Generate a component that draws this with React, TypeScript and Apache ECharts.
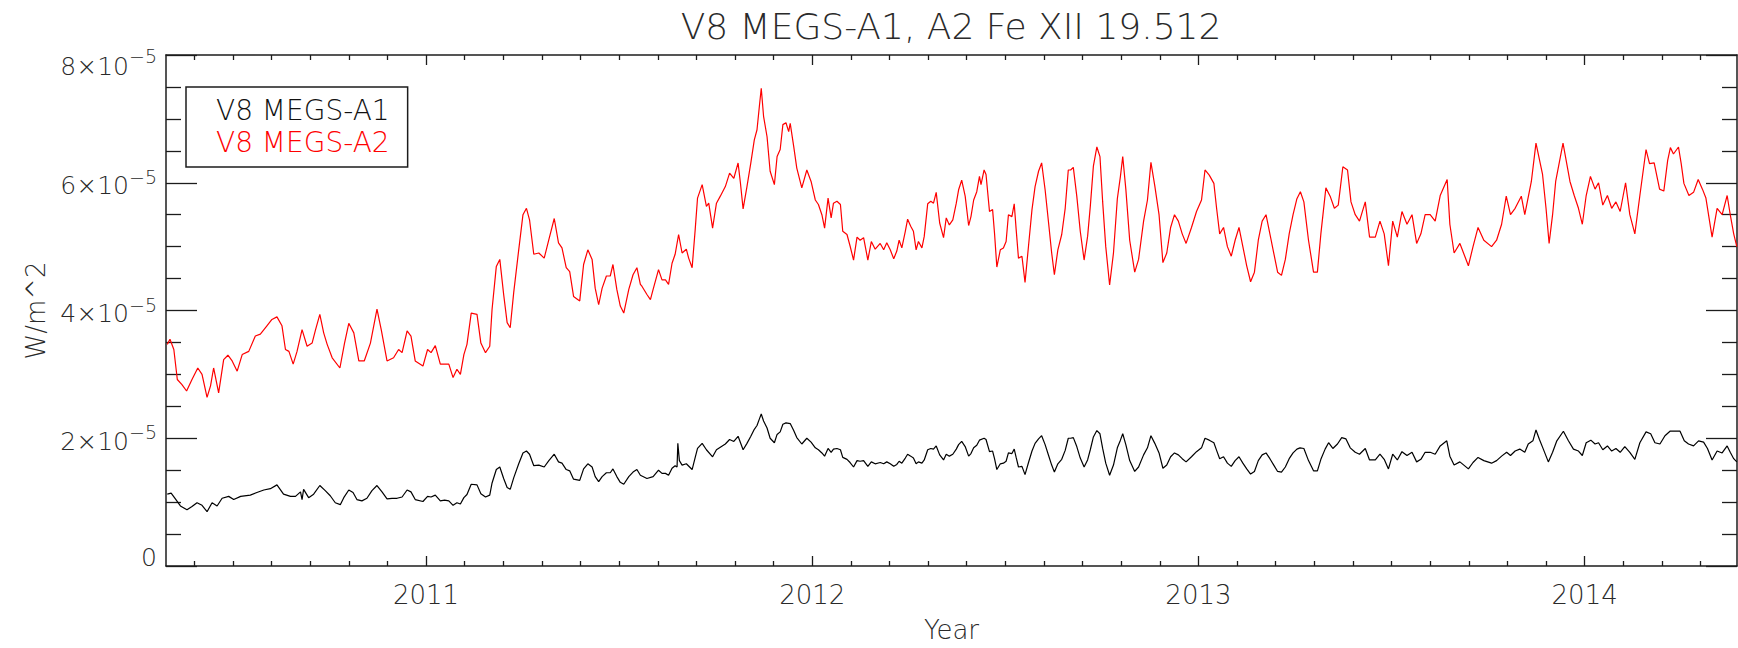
import React, { useEffect, useRef } from "react";
import * as echarts from "echarts";

// Values in units of 1e-5 W/m^2, x in decimal years
const A2_2010: number[][] = [
  [2010.330,3.47],[2010.337,3.55],[2010.347,3.39],[2010.356,2.92],[2010.368,2.84],[2010.380,2.74],[2010.394,2.92],[2010.409,3.10],[2010.420,3.00],[2010.433,2.64],[2010.442,2.82],[2010.450,3.10],[2010.463,2.71],[2010.476,3.23],[2010.487,3.30],[2010.498,3.21],[2010.511,3.05],[2010.524,3.31],[2010.541,3.36],[2010.558,3.60],[2010.571,3.63],[2010.588,3.76],[2010.601,3.86],[2010.614,3.90],[2010.627,3.76],[2010.636,3.39],[2010.645,3.36],[2010.656,3.16],[2010.666,3.36],[2010.679,3.70],[2010.692,3.44],[2010.705,3.49],[2010.714,3.70],[2010.725,3.94],[2010.735,3.65],[2010.744,3.47],[2010.757,3.26],[2010.777,3.10],[2010.789,3.49],[2010.800,3.80],[2010.813,3.65],[2010.826,3.21],[2010.840,3.21],[2010.856,3.49],[2010.873,4.02],[2010.884,3.70],[2010.899,3.21],[2010.916,3.26],[2010.929,3.39],[2010.938,3.34],[2010.951,3.68],[2010.961,3.60],[2010.972,3.21],[2010.992,3.13]
];
const A2_2011: number[][] = [
  [2011.004,3.39],[2011.013,3.34],[2011.024,3.45],[2011.037,3.16],[2011.059,3.16],[2011.070,2.95],[2011.080,3.08],[2011.089,3.00],[2011.098,3.31],[2011.106,3.47],[2011.117,3.96],[2011.132,3.94],[2011.142,3.49],[2011.154,3.34],[2011.165,3.44],[2011.171,4.02],[2011.182,4.69],[2011.191,4.80],[2011.201,4.25],[2011.210,3.81],[2011.218,3.73],[2011.227,4.28],[2011.240,4.95],[2011.251,5.50],[2011.260,5.60],[2011.268,5.42],[2011.279,4.88],[2011.292,4.90],[2011.306,4.82],[2011.318,5.11],[2011.332,5.44],[2011.343,5.06],[2011.352,4.98],[2011.363,4.67],[2011.372,4.61],[2011.382,4.22],[2011.398,4.15],[2011.408,4.72],[2011.419,4.95],[2011.430,4.80],[2011.438,4.35],[2011.447,4.09],[2011.456,4.35],[2011.467,4.54],[2011.477,4.54],[2011.484,4.72],[2011.494,4.33],[2011.503,4.07],[2011.512,3.96],[2011.525,4.33],[2011.536,4.56],[2011.546,4.67],[2011.555,4.41],
  [2011.559,4.38],[2011.572,4.25],[2011.581,4.17],[2011.588,4.33],[2011.602,4.64],[2011.611,4.48],[2011.620,4.48],[2011.628,4.41],[2011.637,4.74],[2011.645,4.88],[2011.654,5.19],[2011.663,4.90],[2011.674,4.96],[2011.680,4.82],[2011.689,4.67],[2011.697,5.27],[2011.703,5.76],[2011.715,5.97],[2011.726,5.63],[2011.732,5.68],[2011.742,5.29],[2011.752,5.68],[2011.762,5.79],[2011.775,5.94],[2011.786,6.15],[2011.797,6.07],[2011.808,6.31],[2011.814,6.00],[2011.821,5.59],[2011.831,5.94],[2011.841,6.31],[2011.850,6.67],[2011.857,6.83],[2011.863,7.19],[2011.868,7.48],[2011.874,7.04],[2011.883,6.72],[2011.891,6.18],[2011.902,5.97],[2011.909,6.41],[2011.917,6.52],[2011.924,6.91],[2011.932,6.94],[2011.939,6.80],[2011.943,6.93],[2011.952,6.57],[2011.960,6.23],[2011.973,5.92],[2011.986,6.20],[2011.997,6.02]
];
const A2_2012: number[][] = [
  [2012.008,5.73],[2012.016,5.66],[2012.025,5.50],[2012.032,5.29],[2012.041,5.76],[2012.049,5.45],[2012.055,5.68],[2012.064,5.71],[2012.073,5.66],[2012.079,5.24],[2012.090,5.19],[2012.098,5.01],[2012.107,4.79],[2012.116,5.15],[2012.124,5.10],[2012.133,5.14],[2012.144,4.79],[2012.153,5.08],[2012.163,4.96],[2012.176,5.05],[2012.185,4.95],[2012.193,5.06],[2012.202,4.95],[2012.211,4.81],[2012.219,4.93],[2012.225,5.10],[2012.232,4.98],[2012.241,5.24],[2012.247,5.43],[2012.255,5.32],[2012.262,5.24],[2012.269,4.95],[2012.275,5.08],[2012.284,4.98],[2012.290,5.16],[2012.299,5.67],[2012.307,5.71],[2012.314,5.68],[2012.321,5.85],[2012.330,5.37],[2012.340,5.14],[2012.347,5.45],[2012.355,5.34],[2012.364,5.42],[2012.373,5.68],[2012.379,5.89],[2012.387,6.04],[2012.396,5.79],[2012.405,5.33],[2012.411,5.47],[2012.418,5.73],[2012.426,5.86],[2012.433,6.10],[2012.437,5.97],[2012.445,6.20],[2012.450,6.13],[2012.459,5.55],[2012.467,5.58],[2012.472,5.21],[2012.478,4.68],[2012.487,4.95],[2012.495,4.98],[2012.502,5.08],[2012.508,5.50],[2012.517,5.47],[2012.523,5.67],[2012.528,5.27],[2012.534,4.82],[2012.543,4.85],[2012.551,4.44],[2012.560,5.01],[2012.569,5.58],[2012.577,5.94],[2012.586,6.18],[2012.594,6.31],[2012.603,5.89],[2012.612,5.37],[2012.620,4.90],[2012.627,4.56],[2012.636,4.95],[2012.646,5.19],[2012.655,5.60],[2012.663,6.20],[2012.669,6.20],[2012.676,6.24],[2012.685,5.79],[2012.694,5.24],[2012.704,4.79],[2012.713,5.16],[2012.720,5.63],[2012.728,6.26],[2012.737,6.56],[2012.745,6.41],
  [2012.752,5.70],[2012.760,5.00],[2012.770,4.40],[2012.780,4.90],[2012.790,5.75],[2012.798,6.10],[2012.804,6.41],[2012.812,5.90],[2012.822,5.10],[2012.835,4.60],[2012.845,4.80],[2012.858,5.40],[2012.868,5.73],[2012.877,6.32],[2012.887,5.95],[2012.898,5.50],[2012.908,4.75],[2012.918,4.90],[2012.928,5.30],[2012.938,5.50],[2012.948,5.40],[2012.958,5.20],[2012.968,5.05],[2012.982,5.30],[2012.995,5.55]
];
const A2_2013: number[][] = [
  [2013.008,5.73],[2013.017,6.20],[2013.028,6.12],[2013.040,5.99],[2013.047,5.60],[2013.055,5.20],[2013.065,5.30],[2013.075,5.00],[2013.085,4.85],[2013.095,5.10],[2013.105,5.30],[2013.115,5.00],[2013.125,4.70],[2013.135,4.45],[2013.145,4.60],[2013.155,5.10],[2013.165,5.40],[2013.175,5.50],[2013.185,5.20],[2013.195,4.90],[2013.205,4.60],[2013.215,4.55],[2013.225,4.80],[2013.235,5.20],[2013.245,5.50],[2013.255,5.75],[2013.264,5.86],
  [2013.273,5.70],[2013.285,5.10],[2013.298,4.60],[2013.308,4.60],[2013.317,5.20],[2013.330,5.92],[2013.341,5.79],[2013.352,5.60],[2013.362,5.65],[2013.374,6.25],[2013.386,6.20],[2013.395,5.70],[2013.406,5.50],[2013.417,5.40],[2013.432,5.70],[2013.443,5.15],[2013.458,5.15],[2013.470,5.40],[2013.481,5.20],[2013.492,4.70],[2013.503,5.40],[2013.515,5.15],[2013.527,5.55],[2013.540,5.35],[2013.553,5.50],[2013.565,5.05],[2013.576,5.20],[2013.587,5.50],[2013.600,5.50],[2013.613,5.40],[2013.626,5.80],[2013.644,6.05],[2013.651,5.35],[2013.662,4.90],[2013.677,5.05],[2013.699,4.70],[2013.711,5.00],[2013.724,5.30],[2013.739,5.10],[2013.759,5.00],[2013.772,5.10],[2013.785,5.35],[2013.797,5.79],[2013.808,5.50],[2013.820,5.60],[2013.836,5.79],[2013.845,5.50],[2013.862,6.02],[2013.874,6.62],[2013.891,6.13],[2013.900,5.60],[2013.908,5.05],[2013.917,5.50],[2013.925,6.02],[2013.944,6.62],[2013.962,6.02],[2013.973,5.80],[2013.984,5.60],[2013.994,5.35]
];
const A2_2014: number[][] = [
  [2014.004,5.80],[2014.015,6.10],[2014.027,5.90],[2014.036,6.00],[2014.047,5.65],[2014.059,5.80],[2014.070,5.60],[2014.081,5.70],[2014.092,5.55],[2014.106,6.00],[2014.117,5.50],[2014.130,5.20],[2014.143,5.80],[2014.159,6.52],[2014.168,6.30],[2014.180,6.31],[2014.194,5.90],[2014.205,5.87],[2014.215,6.35],[2014.222,6.55],[2014.230,6.45],[2014.243,6.56],[2014.250,6.30],[2014.257,5.99],[2014.270,5.80],[2014.282,5.85],[2014.294,6.05],[2014.305,5.90],[2014.314,5.76],[2014.330,5.15],[2014.343,5.60],[2014.356,5.50],[2014.369,5.80],[2014.377,5.50],[2014.386,5.20],[2014.394,5.00]
];

const A1_2010: number[][] = [
  [2010.330,1.125],[2010.340,1.14],[2010.351,1.05],[2010.364,0.94],[2010.381,0.88],[2010.394,0.93],[2010.407,0.99],[2010.420,0.95],[2010.433,0.85],[2010.446,0.99],[2010.459,0.94],[2010.472,1.06],[2010.489,1.09],[2010.502,1.04],[2010.520,1.09],[2010.545,1.11],[2010.562,1.15],[2010.580,1.19],[2010.597,1.21],[2010.614,1.27],[2010.631,1.125],[2010.649,1.09],[2010.662,1.09],[2010.675,1.16],[2010.679,1.04],[2010.683,1.20],[2010.696,1.07],[2010.709,1.125],[2010.725,1.26],[2010.739,1.18],[2010.752,1.10],[2010.765,0.99],[2010.778,0.96],[2010.787,1.07],[2010.800,1.19],[2010.811,1.15],[2010.821,1.04],[2010.834,1.02],[2010.847,1.06],[2010.860,1.18],[2010.873,1.26],[2010.886,1.16],[2010.899,1.05],[2010.912,1.06],[2010.925,1.06],[2010.938,1.08],[2010.951,1.19],[2010.961,1.16],[2010.972,1.04],[2010.992,1.01]
];
const A1_2011: number[][] = [
  [2011.004,1.09],[2011.013,1.08],[2011.024,1.11],[2011.037,1.02],[2011.048,1.03],[2011.059,1.02],[2011.070,0.95],[2011.080,0.99],[2011.089,0.97],[2011.098,1.07],[2011.106,1.12],[2011.117,1.28],[2011.132,1.27],[2011.142,1.13],[2011.154,1.08],[2011.165,1.11],[2011.171,1.30],[2011.182,1.51],[2011.191,1.55],[2011.201,1.37],[2011.210,1.23],[2011.218,1.20],[2011.227,1.38],[2011.240,1.60],[2011.251,1.77],[2011.260,1.80],[2011.268,1.75],[2011.279,1.57],[2011.292,1.58],[2011.306,1.55],[2011.318,1.65],[2011.332,1.75],[2011.343,1.63],[2011.352,1.61],[2011.363,1.51],[2011.372,1.49],[2011.382,1.36],[2011.398,1.34],[2011.408,1.52],[2011.419,1.60],[2011.430,1.55],[2011.438,1.40],[2011.447,1.32],[2011.456,1.40],[2011.467,1.46],[2011.477,1.46],[2011.484,1.52],[2011.494,1.40],[2011.503,1.31],[2011.512,1.28],[2011.525,1.40],[2011.536,1.47],[2011.546,1.51],[2011.555,1.42],
  [2011.572,1.37],[2011.588,1.40],[2011.602,1.50],[2011.611,1.45],[2011.620,1.45],[2011.628,1.42],[2011.637,1.53],[2011.645,1.57],[2011.650,1.55],[2011.652,1.92],[2011.656,1.65],[2011.663,1.58],[2011.674,1.60],[2011.689,1.51],[2011.697,1.70],[2011.703,1.84],[2011.715,1.92],[2011.726,1.82],[2011.742,1.71],[2011.752,1.82],[2011.762,1.86],[2011.775,1.91],[2011.786,1.98],[2011.797,1.95],[2011.808,2.03],[2011.821,1.82],[2011.831,1.92],[2011.841,2.03],[2011.850,2.14],[2011.857,2.20],[2011.863,2.30],[2011.868,2.38],[2011.874,2.27],[2011.883,2.16],[2011.891,2.00],[2011.902,1.93],[2011.909,2.06],[2011.917,2.10],[2011.924,2.22],[2011.932,2.24],[2011.943,2.23],[2011.952,2.12],[2011.960,2.01],[2011.973,1.91],[2011.986,2.00],[2011.997,1.94]
];
const A1_2012: number[][] = [
  [2012.008,1.85],[2012.016,1.82],[2012.025,1.77],[2012.032,1.72],[2012.041,1.84],[2012.049,1.78],[2012.055,1.83],[2012.064,1.84],[2012.073,1.82],[2012.079,1.70],[2012.090,1.67],[2012.098,1.62],[2012.107,1.55],[2012.116,1.65],[2012.124,1.64],[2012.133,1.65],[2012.144,1.56],[2012.153,1.63],[2012.163,1.60],[2012.176,1.62],[2012.185,1.60],[2012.193,1.63],[2012.202,1.60],[2012.211,1.56],[2012.219,1.59],[2012.225,1.64],[2012.232,1.61],[2012.241,1.69],[2012.247,1.75],[2012.255,1.72],[2012.262,1.69],[2012.269,1.60],[2012.275,1.63],[2012.284,1.61],[2012.290,1.66],[2012.299,1.82],[2012.307,1.84],[2012.314,1.83],[2012.321,1.88],[2012.330,1.74],[2012.340,1.66],[2012.347,1.75],[2012.355,1.72],[2012.364,1.75],[2012.373,1.83],[2012.379,1.90],[2012.387,1.95],[2012.396,1.87],[2012.405,1.72],[2012.411,1.76],[2012.418,1.85],[2012.426,1.89],[2012.433,1.97],[2012.445,2.00],[2012.450,1.98],[2012.459,1.79],[2012.467,1.80],[2012.472,1.68],[2012.478,1.51],[2012.487,1.60],[2012.495,1.61],[2012.502,1.64],[2012.508,1.77],[2012.517,1.76],[2012.523,1.83],[2012.528,1.70],[2012.534,1.55],[2012.543,1.56],[2012.551,1.43],[2012.560,1.62],[2012.569,1.80],[2012.577,1.92],[2012.586,1.99],[2012.594,2.04],[2012.603,1.90],[2012.612,1.73],[2012.620,1.58],[2012.627,1.47],[2012.636,1.60],[2012.646,1.67],[2012.655,1.81],[2012.663,2.00],[2012.669,2.00],[2012.676,2.01],[2012.685,1.87],[2012.694,1.69],[2012.704,1.55],[2012.713,1.66],[2012.720,1.82],[2012.728,2.02],[2012.737,2.12],[2012.745,2.07],
  [2012.752,1.84],[2012.760,1.61],[2012.770,1.42],[2012.780,1.58],[2012.790,1.85],[2012.798,1.97],[2012.804,2.07],[2012.812,1.90],[2012.822,1.65],[2012.835,1.48],[2012.845,1.55],[2012.858,1.74],[2012.868,1.85],[2012.877,2.04],[2012.887,1.92],[2012.898,1.77],[2012.908,1.53],[2012.918,1.58],[2012.928,1.71],[2012.938,1.77],[2012.948,1.74],[2012.958,1.68],[2012.968,1.63],[2012.982,1.71],[2012.995,1.79]
];
const A1_2013: number[][] = [
  [2013.008,1.85],[2013.017,2.00],[2013.028,1.97],[2013.040,1.93],[2013.047,1.81],[2013.055,1.68],[2013.065,1.71],[2013.075,1.61],[2013.085,1.56],[2013.095,1.65],[2013.105,1.71],[2013.115,1.61],[2013.125,1.52],[2013.135,1.44],[2013.145,1.48],[2013.155,1.65],[2013.165,1.74],[2013.175,1.77],[2013.185,1.68],[2013.195,1.58],[2013.205,1.48],[2013.215,1.47],[2013.225,1.55],[2013.235,1.68],[2013.245,1.77],[2013.255,1.83],
  [2013.263,1.85],[2013.273,1.84],[2013.285,1.65],[2013.298,1.49],[2013.308,1.49],[2013.317,1.67],[2013.328,1.83],[2013.337,1.93],[2013.348,1.84],[2013.360,1.91],[2013.371,2.01],[2013.382,1.99],[2013.393,1.85],[2013.406,1.78],[2013.417,1.75],[2013.432,1.84],[2013.443,1.66],[2013.458,1.66],[2013.470,1.75],[2013.481,1.67],[2013.492,1.52],[2013.503,1.75],[2013.515,1.66],[2013.527,1.79],[2013.540,1.73],[2013.553,1.78],[2013.565,1.63],[2013.576,1.67],[2013.587,1.78],[2013.600,1.78],[2013.613,1.75],[2013.626,1.88],[2013.643,1.96],[2013.651,1.72],[2013.662,1.58],[2013.677,1.63],[2013.699,1.52],[2013.711,1.62],[2013.724,1.70],[2013.739,1.65],[2013.759,1.61],[2013.772,1.65],[2013.785,1.72],[2013.798,1.78],[2013.808,1.73],[2013.820,1.80],[2013.832,1.83],[2013.845,1.78],[2013.854,1.91],[2013.866,1.96],[2013.874,2.13],[2013.883,1.98],[2013.893,1.83],[2013.906,1.63],[2013.917,1.78],[2013.928,1.96],[2013.945,2.11],[2013.958,1.96],[2013.971,1.83],[2013.984,1.80],[2013.994,1.73]
];
const A1_2014: number[][] = [
  [2014.004,1.93],[2014.016,1.97],[2014.027,1.91],[2014.036,1.93],[2014.047,1.82],[2014.059,1.88],[2014.070,1.80],[2014.081,1.84],[2014.092,1.78],[2014.104,1.87],[2014.117,1.78],[2014.130,1.67],[2014.143,1.93],[2014.159,2.10],[2014.171,2.07],[2014.182,1.93],[2014.195,1.91],[2014.208,2.04],[2014.221,2.11],[2014.234,2.11],[2014.247,2.11],[2014.258,1.96],[2014.269,1.91],[2014.282,1.88],[2014.295,1.96],[2014.308,1.94],[2014.318,1.84],[2014.330,1.66],[2014.343,1.80],[2014.356,1.77],[2014.369,1.88],[2014.377,1.78],[2014.386,1.68],[2014.394,1.63]
];

const YEAR_TICKS = [2011, 2012, 2013, 2014];
const Y_TICKS = [0, 2, 4, 6, 8];
const X_MIN = 2010.3267;
const X_MAX = 2014.3945;
const TITLE = "V8 MEGS-A1, A2 Fe XII 19.512";
const NAME_A1 = "V8 MEGS-A1";
const NAME_A2 = "V8 MEGS-A2";

const FONT = '"DejaVu Sans", "Liberation Sans", sans-serif';
const INK = "#1c1c1c";
const TXT = "#2a2a2a";
const FW = 200 as any;

export default function App() {
  const ref = useRef<HTMLDivElement>(null);
  useEffect(() => {
    if (!ref.current) return;
    const chart = echarts.init(ref.current, undefined, { renderer: "svg" });
    const a1 = [...A1_2010, ...A1_2011, ...A1_2012, ...A1_2013, ...A1_2014];
    const a2 = [...A2_2010, ...A2_2011, ...A2_2012, ...A2_2013, ...A2_2014];
    const minorX: number[] = [];
    for (let t = 20104; t <= 20143; t++) if (t % 10 !== 0) minorX.push(t / 10);

    const axLine = { show: true, onZero: false, lineStyle: { color: INK, width: 1.5 } };
    const tickStyle = { color: INK, width: 1.3 };
    const baseX: any = {
      type: "value", min: X_MIN, max: X_MAX, gridIndex: 0,
      splitLine: { show: false },
    };
    const yFmt = (v: number) => {
      const n = Math.round(v);
      if (n === 0) return "{z|0}";
      if (n === 8) return "{a|8×10}{b|−5}";
      return `{m|${n}×10}{s|−5}`;
    };
    const main = { fontSize: 25, fontFamily: FONT, fontWeight: FW, color: TXT };
    const sup = { fontSize: 19, fontFamily: FONT, fontWeight: FW, color: TXT };
    const yBase: any = {
      type: "value", min: 0, max: 8, interval: 2, gridIndex: 0,
      axisLine: axLine,
      axisTick: { show: true, inside: true, length: 31, lineStyle: tickStyle },
      minorTick: { show: true, splitNumber: 4, length: 15, lineStyle: tickStyle },
      splitLine: { show: false },
      minorSplitLine: { show: false },
    };

    chart.setOption({
      animation: false,
      backgroundColor: "#ffffff",
      title: {
        text: TITLE, left: 951, top: 8, padding: 0, textAlign: "center",
        textStyle: { fontSize: 36, fontWeight: FW, fontFamily: FONT, color: TXT },
      },
      legend: {
        show: true, orient: "vertical", left: 186, top: 87,
        padding: [7, 18, 9, 25], itemGap: 0, itemWidth: 0, itemHeight: 0,
        icon: "rect", itemStyle: { opacity: 0 }, lineStyle: { opacity: 0 },
        borderColor: INK, borderWidth: 1.5, selectedMode: false,
        textStyle: { fontSize: 28, fontFamily: FONT, fontWeight: FW, lineHeight: 32 },
        data: [
          { name: NAME_A1, textStyle: { color: "#111111" } },
          { name: NAME_A2, textStyle: { color: "#ff0000" } },
        ],
      },
      grid: { left: 166, top: 55, width: 1571, height: 512, containLabel: false },
      xAxis: [
        {
          ...baseX, position: "bottom", axisLine: axLine,
          axisTick: { show: true, inside: true, length: 10, customValues: YEAR_TICKS, lineStyle: tickStyle },
          axisLabel: {
            show: true, customValues: YEAR_TICKS, margin: 16,
            formatter: (v: number) => String(Math.round(v)),
            fontSize: 26, fontFamily: FONT, fontWeight: FW, color: TXT,
          },
          name: "Year", nameLocation: "middle", nameGap: 51,
          nameTextStyle: { fontSize: 26, fontFamily: FONT, fontWeight: FW, color: TXT },
        },
        {
          ...baseX, position: "bottom", axisLine: { show: false, onZero: false },
          axisTick: { show: true, inside: true, length: 5, customValues: minorX, lineStyle: tickStyle },
          axisLabel: { show: false },
        },
        {
          ...baseX, position: "top", axisLine: axLine,
          axisTick: { show: true, inside: true, length: 10, customValues: YEAR_TICKS, lineStyle: tickStyle },
          axisLabel: { show: false },
        },
        {
          ...baseX, position: "top", axisLine: { show: false, onZero: false },
          axisTick: { show: true, inside: true, length: 5, customValues: minorX, lineStyle: tickStyle },
          axisLabel: { show: false },
        },
      ],
      yAxis: [
        {
          ...yBase, position: "left",
          axisLabel: {
            show: true, margin: 9, formatter: yFmt,
            customValues: Y_TICKS,
            rich: {
              z: { ...main, padding: [0, 0, 18, 0] },
              m: { ...main, padding: [6, 0, 0, 0] },
              s: { ...sup, padding: [0, 0, 12, 0] },
              a: { ...main, padding: [22, 0, 0, 0] },
              b: { ...sup, padding: [2, 0, 0, 0] },
            },
          },
          name: "W/m^2", nameLocation: "middle", nameGap: 117,
          nameTextStyle: { fontSize: 26, fontFamily: FONT, fontWeight: FW, color: TXT },
        },
        { ...yBase, position: "right", axisLabel: { show: false } },
      ],
      series: [
        {
          name: NAME_A1, type: "line", xAxisIndex: 0, yAxisIndex: 0,
          data: a1, showSymbol: false, symbol: "none",
          lineStyle: { color: "#000000", width: 1.2 }, itemStyle: { color: "#000000" },
        },
        {
          name: NAME_A2, type: "line", xAxisIndex: 0, yAxisIndex: 0,
          data: a2, showSymbol: false, symbol: "none",
          lineStyle: { color: "#ff0000", width: 1.2 }, itemStyle: { color: "#ff0000" },
        },
      ],
    });
    return () => chart.dispose();
  }, []);
  return (
    <div
      ref={ref}
      style={{ position: "fixed", left: 0, top: 0, width: 1738, height: 648, background: "#fff" }}
    />
  );
}
